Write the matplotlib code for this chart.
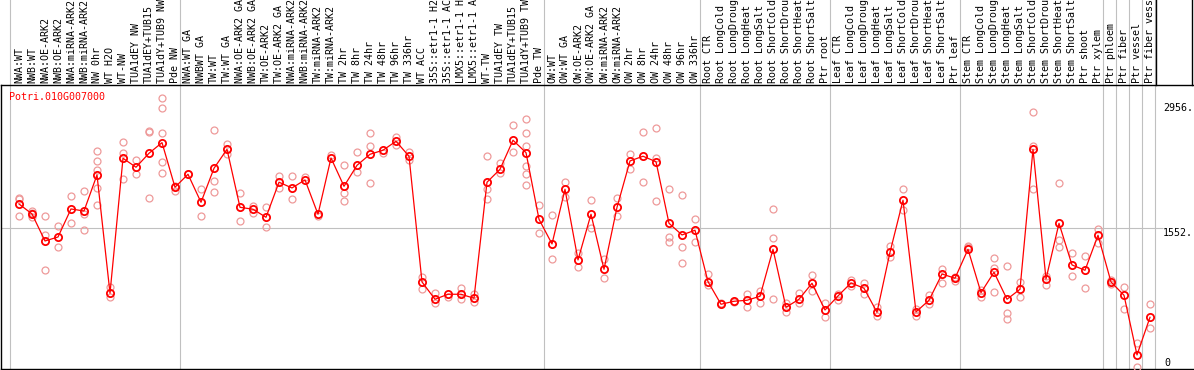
import matplotlib
matplotlib.use("Agg")
import matplotlib.pyplot as plt

# sample labels, one per column
labels = [
    "NWA:WT", "NWB:WT", "NWA:OE-ARK2", "NWB:OE-ARK2", "NWA:miRNA-ARK2", "NWB:miRNA-ARK2",
    "NW 0hr", "WT H2O", "WT-NW", "TUA1dEY NW", "TUA1dEY+TUB15", "TUA1dY+TUB9 NW", "Pde NW",
    "NWA:WT GA", "NWBWT GA", "TW:WT", "TW:WT GA", "NWA:OE-ARK2 GA", "NWB:OE-ARK2 GA",
    "TW:OE-ARK2", "TW:OE-ARK2 GA", "NWA:miRNA-ARK2 GA", "NWB:miRNA-ARK2 GA", "TW:miRNA-ARK2",
    "TW:miRNA-ARK2", "TW 2hr", "TW 8hr", "TW 24hr", "TW 48hr", "TW 96hr", "TW 336hr", "WT ACC",
    "35S::etr1-1 H2O", "35S::etr1-1 ACC", "LMX5::etr1-1 H2O", "LMX5::etr1-1 ACC", "WT-TW",
    "TUA1dEY TW", "TUA1dEY+TUB15", "TUA1dY+TUB9 TW", "Pde TW",
    "OW:WT", "OW:WT GA", "OW:OE-ARK2", "OW:OE-ARK2 GA", "OW:miRNA-ARK2", "OW:miRNA-ARK2",
    "OW 2hr", "OW 8hr", "OW 24hr", "OW 48hr", "OW 96hr", "OW 336hr",
    "Root CTR", "Root LongCold", "Root LongDrought", "Root LongHeat", "Root LongSalt",
    "Root ShortCold", "Root ShortDrought", "Root ShortHeat", "Root ShortSalt", "Ptr root",
    "Leaf CTR", "Leaf LongCold", "Leaf LongDrought", "Leaf LongHeat", "Leaf LongSalt",
    "Leaf ShortCold", "Leaf ShortDrought", "Leaf ShortHeat", "Leaf ShortSalt", "Ptr leaf",
    "Stem CTR", "Stem LongCold", "Stem LongDrought", "Stem LongHeat", "Stem LongSalt",
    "Stem ShortCold", "Stem ShortDrought", "Stem ShortHeat", "Stem ShortSalt", "Ptr shoot",
    "Ptr xylem",
    "Ptr phloem", "Ptr fiber", "Ptr vessel", "Ptr fiber vessel",
]

# columns per experiment group
group_sizes = [13, 28, 12, 10, 10, 11, 1, 1, 1, 1]

# main expression value per column
main_vals = [
    1816, 1708, 1416, 1459, 1762, 1740, 2130, 851, 2310, 2213, 2364, 2479, 1997,
    2137, 1834, 2202, 2407, 1780, 1759, 1672, 2051, 1989, 2076, 1705, 2313, 2007,
    2234, 2353, 2397, 2494, 2332, 973, 786, 840, 840, 797, 2051, 2191, 2505, 2371, 1651,
    1384, 1975, 1211, 1705, 1110, 1780, 2281, 2332, 2273, 1607, 1481, 1532,
    976, 732, 764, 775, 818, 1326, 699, 786, 959, 670,
    822, 962, 905, 645, 1294, 1856, 649, 775, 1059, 1013,
    1326, 857, 1078, 786, 894, 2407, 1005, 1607, 1157, 1099, 1478,
    973, 829, 184, 591,
]

# replicate values per column
reps = [
    [1881, 1867, 1686], [1737, 1716, 1679], [1686, 1481, 1099], [1578, 1348],
    [1899, 1607], [1953, 1708, 1532], [2389, 2278, 2184, 1986, 1802], [916, 808],
    [2483, 2371, 2083], [2292, 2140], [2608, 2598, 1881],
    [2959, 2851, 2580, 2267, 2154], [2011, 1960],
    [2137], [1975, 1686], [2613, 2061, 1943], [2465, 2357], [1932, 1636],
    [1798, 1722], [1780, 1564], [2119, 1989], [2116, 1867], [2105], [1686],
    [2349], [2238, 1935, 1845], [2375, 2162], [2584, 2443, 2043], [2364],
    [2540, 2451], [2375, 2292], [1030, 894], [854, 749], [814], [908, 789],
    [840, 757], [2332, 1978, 1867], [2263, 2148], [2667, 2375],
    [2735, 2580, 2443, 2224, 2144, 2018], [1802, 1499],
    [1694, 1222], [2054, 1889], [1283, 1135], [1856, 1553], [1225, 1013],
    [1878, 1683], [2357, 2191], [2594, 2051], [2634, 2313, 1849],
    [1978, 1463, 1402], [1910, 1348, 1178], [1654, 1402],
    [1056, 940], [749], [757], [846, 706], [872, 749], [1762, 1445, 786],
    [743, 652], [854, 743], [1049, 879], [743, 598],
    [843, 778], [995, 930], [965, 840], [699, 609], [1365, 1246], [1975, 1751],
    [684, 609], [832, 732], [1110, 959], [1030, 987],
    [1362, 1348], [886, 814], [1229, 1127, 862], [1146, 641, 573], [970, 808],
    [2807, 2446, 1978], [1041, 944], [2040, 1427, 1355], [1283, 1041],
    [1254, 905], [1543, 1398],
    [995, 951], [916, 678], [310, 57], [735, 472],
]

gene = "Potri.010G007000"
y_max_label = "2956."
y_mid = 1552

mono = "DejaVu Sans Mono"
fs = 7.2
grid_c = "#c0c0c0"

W, H = 1194, 370
fig = plt.figure(figsize=(W / 100, H / 100), dpi=100)
ax = fig.add_axes([1 / W, 1 / H, 1193 / W, 284 / H])

xs = list(range(len(main_vals)))

# replicate points
for x, vals in zip(xs, reps):
    ax.plot([x] * len(vals), vals, "o", ms=5, mfc="none", mec="#ee9a9a", mew=0.9, zorder=3)

ax.plot(xs, main_vals, "-", color="#ff0000", lw=0.9, zorder=4)
ax.plot(xs, main_vals, "o", ms=5.2, mfc="none", mec="#ff0000", mew=1.3, zorder=5)

ax.set_xlim(-18 / 13, -18 / 13 + 1193 / 13)
ax.set_ylim(32, 3102)
ax.set_xticks([])
ax.set_yticks([])
for side in ["left", "bottom", "top"]:
    ax.spines[side].set_color("black")
    ax.spines[side].set_linewidth(1.0)
ax.spines["right"].set_visible(False)

# group separators run through the label strip as well
bounds = [-0.67]
end = -1
for g in group_sizes:
    end += g
    bounds.append(end + 0.4)
for b in bounds:
    ax.axvline(b, ymin=0, ymax=1 + 86 / 284, color=grid_c, lw=0.8, clip_on=False, zorder=1)

ax.hlines(y_mid, ax.get_xlim()[0], 88.0, color=grid_c, lw=0.8, zorder=1)

# black frame bits in the label strip
ax.plot([87.45, 87.45], [1.0, 1.31], color="black", lw=1.0,
        transform=ax.get_xaxis_transform(), clip_on=False)
ax.plot([90.23, 90.23], [1.0, 1.31], color="black", lw=1.0,
        transform=ax.get_xaxis_transform(), clip_on=False)

for x, lab in zip(xs, labels):
    ax.text(x, 1.006, lab, rotation=90, ha="center", va="bottom", fontsize=fs,
            family=mono, transform=ax.get_xaxis_transform(), clip_on=False)

ax.text(-0.75, 2976, gene, color="#ff0000", fontsize=fs, family=mono, va="center", ha="left")

ax.text(88.02, 2905, y_max_label, fontsize=fs, family=mono, va="top", ha="left", clip_on=False)
ax.text(88.02, y_mid, f"{y_mid}.", fontsize=fs, family=mono, va="top", ha="left", clip_on=False)
ax.text(88.08, 148, "0", fontsize=fs, family=mono, va="top", ha="left", clip_on=False)

fig.savefig("out.png", dpi=100)
